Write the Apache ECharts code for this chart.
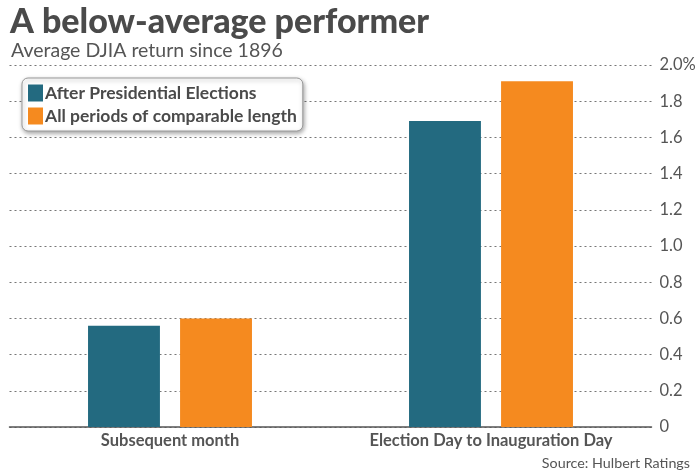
<!DOCTYPE html>
<html><head><meta charset="utf-8">
<script src="https://cdn.jsdelivr.net/npm/echarts@6/dist/echarts.min.js"></script>
<style>html,body{margin:0;padding:0;background:#fff}#c{width:700px;height:471px}</style>
</head><body><div id="c"></div>
<script>
const categories = ['Subsequent month', 'Election Day to Inauguration Day'];
const seriesNames = ['After Presidential Elections', 'All periods of comparable length'];
const afterElections = [0.56, 1.69];
const allPeriods = [0.60, 1.91];
const yTickValues = [0, 0.2, 0.4, 0.6, 0.8, 1.0, 1.2, 1.4, 1.6, 1.8, 2.0];
const yTickLabels = ['0', '0.2', '0.4', '0.6', '0.8', '1.0', '1.2', '1.4', '1.6', '1.8', '2.0%'];

const FONT = 'Lato, "Open Sans", sans-serif';
const chart = echarts.init(document.getElementById('c'), null, {renderer: 'canvas'});
chart.setOption({
  animation: false,
  backgroundColor: '#fff',
  title: [
    {text: 'A below-average performer', left: 5, top: 0,
     textStyle: {fontFamily: FONT, fontSize: 34, fontWeight: 900, color: '#4a4a4a'}},
    {text: 'Average DJIA return since 1896', left: 6, top: 36,
     textStyle: {fontFamily: FONT, fontSize: 19.5, fontWeight: 400, color: '#555'}},
    {text: 'Source: Hulbert Ratings', right: 5, top: 451,
     textStyle: {fontFamily: FONT, fontSize: 14.3, fontWeight: 400, color: '#555'}}
  ],
  legend: {
    orient: 'vertical', left: 22, top: 78,
    data: seriesNames,
    itemWidth: 15, itemHeight: 17, itemGap: 5,
    padding: [6, 6, 6, 6],
    backgroundColor: '#fff', borderColor: '#9a9a9a', borderWidth: 1, borderRadius: 6,
    shadowBlur: 4, shadowColor: 'rgba(0,0,0,0.35)', shadowOffsetX: 1, shadowOffsetY: 2,
    icon: 'rect',
    textStyle: {fontFamily: FONT, fontSize: 17.5, fontWeight: 700, color: '#4a4a4a', padding: [0,0,0,-3]}
  },
  grid: {left: 9.5, right: 48.5, top: 65, bottom: 44, containLabel: false},
  xAxis: {
    type: 'category', data: categories,
    axisLine: {lineStyle: {color: '#555', width: 1.5}},
    axisTick: {show: false},
    axisLabel: {fontFamily: FONT, fontSize: 16.5, fontWeight: 700, color: '#555', margin: 5}
  },
  yAxis: {
    type: 'value', position: 'right', min: 0, max: 2, interval: 0.2,
    axisLine: {show: false}, axisTick: {show: false},
    splitLine: {lineStyle: {color: '#777', type: [2, 3], width: 1}},
    axisLabel: {
      fontFamily: FONT, fontSize: 16.5, color: '#555', margin: 8,
      formatter: function (v) {
        const i = yTickValues.findIndex(t => Math.abs(t - v) < 1e-6);
        return i >= 0 ? yTickLabels[i] : '';
      }
    }
  },
  series: [
    {name: seriesNames[0], type: 'bar', data: afterElections, barWidth: '22.4%', barGap: '28%',
     itemStyle: {color: '#236a80'}},
    {name: seriesNames[1], type: 'bar', data: allPeriods, barWidth: '22.4%',
     itemStyle: {color: '#f58a1f'}}
  ]
});
</script></body></html>
